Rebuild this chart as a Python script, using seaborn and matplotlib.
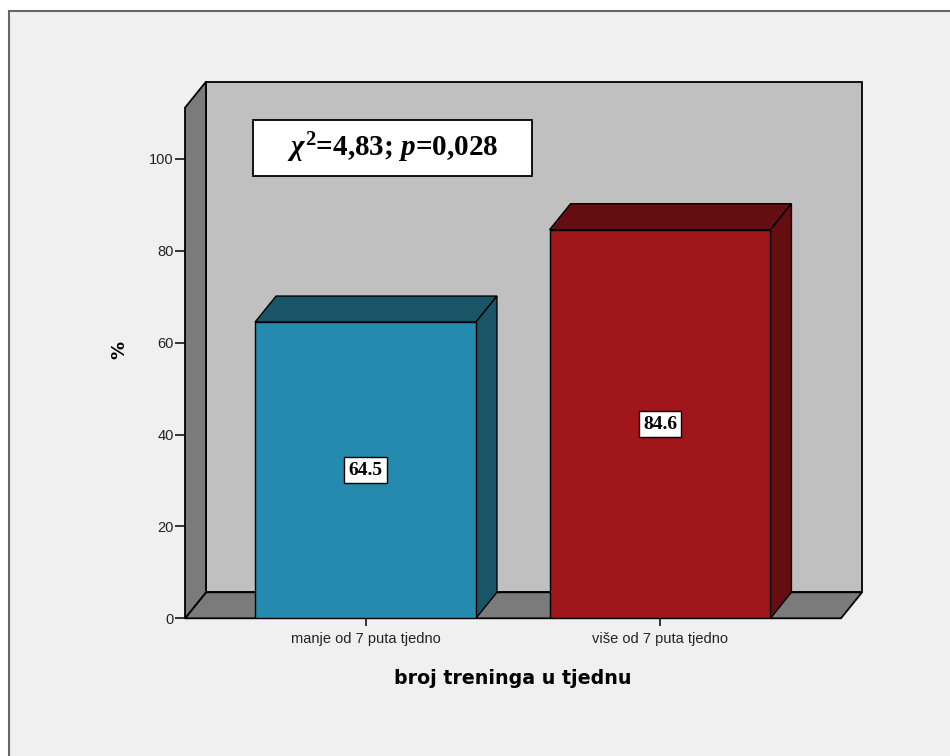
import matplotlib
matplotlib.use("Agg")
import matplotlib.pyplot as plt
import seaborn as sns
from matplotlib.patches import Polygon, Rectangle

# data
categories = ["manje od 7 puta tjedno", "više od 7 puta tjedno"]
values = [64.5, 84.6]
front_colors = ["#248bae", "#a0161a"]
dark_colors = ["#1a5467", "#640e11"]
y_ticks = [0, 20, 40, 60, 80, 100]
stat_text = r"$\chi^{2}$=4,83; $p$=0,028"
x_title = "broj treninga u tjednu"
y_title = "%"

sns.set_style("white")
plt.rcParams["font.family"] = ["Liberation Sans", "DejaVu Sans"]
plt.rcParams["mathtext.fontset"] = "custom"
plt.rcParams["mathtext.it"] = "Liberation Serif:italic:bold"
plt.rcParams["mathtext.rm"] = "Liberation Serif:bold"

W, H = 950, 756
fig = plt.figure(figsize=(W / 100, H / 100), dpi=100, facecolor="white")

# outer frame
fig.patches.append(Rectangle((9 / W, -0.1), 1.2, (H - 11) / H + 0.1,
                             transform=fig.transFigure, facecolor="#f0f0f0",
                             edgecolor="#666666", linewidth=1.5, zorder=-10))

# axes area in pixels
left, right, bottom, top = 185, 862, 618.3, 81.7
ax = fig.add_axes([left / W, (H - bottom) / H, (right - left) / W, (bottom - top) / H])
ax.set_facecolor("none")

px_per_unit_y = (618.3 - 159) / 100
ymax = (bottom - top) / px_per_unit_y
px_per_cat = 294.5
xmin = -(365.5 - left) / px_per_cat
xmax = 1 + (right - 660) / px_per_cat
dx = 21 / px_per_cat
dy = 26 / px_per_unit_y

sns.barplot(x=categories, y=values, hue=categories, palette=front_colors,
            width=0.75, edgecolor="black", linewidth=1, legend=False,
            saturation=1, ax=ax, zorder=5)

ax.set_xlim(xmin, xmax)
ax.set_ylim(0, ymax)

# 3D walls
wall_kw = dict(edgecolor="black", linewidth=1.3, clip_on=False)
ax.add_patch(Polygon([(xmin + dx, dy), (xmax, dy), (xmax, ymax), (xmin + dx, ymax)],
                     facecolor="#c0c0c0", zorder=1, **wall_kw))
ax.add_patch(Polygon([(xmin, 0), (xmax - dx, 0), (xmax, dy), (xmin + dx, dy)],
                     facecolor="#7b7b7b", zorder=2, **wall_kw))
ax.add_patch(Polygon([(xmin, 0), (xmin, ymax - dy), (xmin + dx, ymax), (xmin + dx, dy)],
                     facecolor="#7b7b7b", zorder=2, **wall_kw))

# bar tops and sides
for bar, dark, v in zip(ax.patches[:len(values)], dark_colors, values):
    x0 = bar.get_x()
    x1 = x0 + bar.get_width()
    h = bar.get_height()
    ax.add_patch(Polygon([(x0, h), (x1, h), (x1 + dx, h + dy), (x0 + dx, h + dy)],
                         facecolor=dark, edgecolor="black", linewidth=1, zorder=4))
    ax.add_patch(Polygon([(x1, 0), (x1, h), (x1 + dx, h + dy), (x1 + dx, dy)],
                         facecolor=dark, edgecolor="black", linewidth=1, zorder=4))
    ax.text((x0 + x1) / 2, h / 2, f"{v}", ha="center", va="center", color="black",
            family="Liberation Serif", fontweight="bold", fontsize=14, zorder=7,
            bbox=dict(boxstyle="square,pad=0.22", facecolor="white",
                      edgecolor="black", linewidth=1))

# statistics box
ax.add_patch(Rectangle((0.100, 0.8243), 0.4126, 0.1043, transform=ax.transAxes,
                       facecolor="white", edgecolor="black", linewidth=1.3, zorder=6))
ax.text(0.3063, 0.8765, stat_text, transform=ax.transAxes, ha="center", va="center",
        color="black", family="Liberation Serif", fontweight="bold", fontsize=21, zorder=7)

for s in ax.spines.values():
    s.set_visible(False)
ax.set_yticks(y_ticks)
ax.set_yticklabels([str(t) for t in y_ticks])
ax.tick_params(axis="y", direction="out", length=7, width=1.3, labelsize=10.5,
               labelcolor="#222222", left=True, pad=1)
ax.tick_params(axis="x", direction="out", length=6, width=1.3, labelsize=10.5,
               labelcolor="#222222", bottom=True, pad=4)
ax.set_xlabel(x_title, fontsize=13.7, fontweight="bold", family="DejaVu Sans",
              labelpad=16, color="black")
ax.xaxis.set_label_coords((513 - left) / (right - left), -0.095)
ax.set_ylabel(y_title, fontsize=13, fontweight="bold", family="DejaVu Sans",
              labelpad=15, color="black")

fig.savefig("out.png", dpi=100, facecolor=fig.get_facecolor())
